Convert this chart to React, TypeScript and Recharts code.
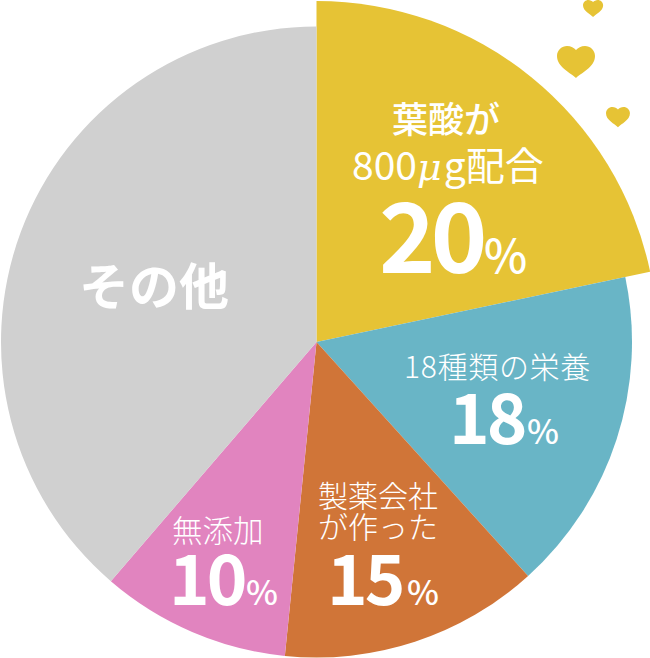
import React from 'react';
import { PieChart, Pie, Cell } from 'recharts';

// Sweep of each slice as drawn (the artwork is not to scale with its printed percentages)
const categories = ['葉酸', '18種類の栄養', '製薬会社', '無添加', 'その他'];
const sliceShares = [21.7, 16.6, 13.3, 9.7, 38.7];
const sliceColors = ['#E6C335', '#69B5C6', '#D07538', '#E184BF', '#D0D0D0'];
const printedPercents = ['20', '18', '15', '10'];

const FONT = '"Noto Sans CJK JP", "Noto Sans", sans-serif';
const YELLOW = sliceColors[0];

const pieData = categories.map((name, i) => ({ name, value: sliceShares[i] }));
const highlightData = [
  { name: categories[0], value: sliceShares[0] },
  { name: 'rest', value: sliceShares.slice(1).reduce((a, b) => a + b, 0) },
];

const Caption = ({ x, y, size, weight = 300, spacing = 0, children }: any) => (
  <text x={x} y={y} fill="#fff" fontFamily={FONT} fontSize={size} fontWeight={weight} letterSpacing={spacing}>
    {children}
  </text>
);

const Percent = ({ x, y, px, size, pSize, spacing = -3, value }: any) => (
  <g>
    <text x={x} y={y} fill="#fff" fontFamily={FONT} fontSize={size} fontWeight={700} letterSpacing={spacing}>
      {value}
    </text>
    <text x={px} y={y} fill="#fff" fontFamily={FONT} fontSize={pSize} fontWeight={500}>
      %
    </text>
  </g>
);

// Heart drawn in a 38x32 box, then moved and scaled
const Heart = ({ x, y, scale }: any) => (
  <path
    transform={`translate(${x} ${y}) scale(${scale})`}
    fill={YELLOW}
    d="M19 32 C14 27 0 21 0 10 C0 4 5 0 10 0 C14 0 17 2 19 4 C21 2 24 0 28 0 C33 0 38 4 38 10 C38 21 24 27 19 32 Z"
  />
);

const renderSliceLabel = ({ index }: any) => {
  switch (index) {
    case 0:
      return (
        <g key={index}>
          <Caption x={392} y={133} size={36} weight={500}>葉酸が</Caption>
          <Caption x={352} y={180} size={39} weight={400}>
            <tspan>800</tspan>
            <tspan fontStyle="italic" fontFamily='"DejaVu Serif", serif' fontSize={38} dx={0}>μ</tspan>
            <tspan dx={2}>g配合</tspan>
          </Caption>
          <Percent x={379} y={273} px={484} size={96} pSize={46} spacing={-5} value={printedPercents[0]} />
        </g>
      );
    case 1:
      return (
        <g key={index}>
          <Caption x={404} y={378} size={30} spacing={0.7}>18種類の栄養</Caption>
          <Percent x={449} y={444} px={527} size={69} pSize={34} value={printedPercents[1]} />
        </g>
      );
    case 2:
      return (
        <g key={index}>
          <Caption x={318} y={507} size={30}>製薬会社</Caption>
          <Caption x={318} y={538} size={30}>が作った</Caption>
          <Percent x={327} y={605} px={407} size={69} pSize={34} value={printedPercents[2]} />
        </g>
      );
    case 3:
      return (
        <g key={index}>
          <Caption x={172} y={542} size={30.5}>無添加</Caption>
          <Percent x={169} y={605} px={246} size={69} pSize={34} value={printedPercents[3]} />
        </g>
      );
    default:
      return (
        <g key={index}>
          <Caption x={79} y={305} size={50} weight={700}>その他</Caption>
        </g>
      );
  }
};

export default function App() {
  return (
    <div style={{ position: 'absolute', left: 0, top: 0, width: 650, height: 658 }}>
      <PieChart width={650} height={658} margin={{ top: 0, right: 0, bottom: 0, left: 0 }}>
        <Pie
          data={highlightData}
          dataKey="value"
          cx={316.5}
          cy={342}
          outerRadius={341}
          startAngle={90}
          endAngle={-270}
          stroke="none"
          isAnimationActive={false}
        >
          <Cell fill={YELLOW} />
          <Cell fill="transparent" />
        </Pie>
        <Pie
          data={pieData}
          dataKey="value"
          cx={316.5}
          cy={342}
          outerRadius={315.5}
          startAngle={90}
          endAngle={-270}
          stroke="none"
          label={renderSliceLabel}
          labelLine={false}
          isAnimationActive={false}
        >
          {pieData.map((d, i) => (
            <Cell key={d.name} fill={i === 0 ? 'transparent' : sliceColors[i]} />
          ))}
        </Pie>

        <Heart x={583} y={0} scale={0.53} />
        <Heart x={557} y={46} scale={1} />
        <Heart x={606} y={107} scale={0.63} />
      </PieChart>
    </div>
  );
}
